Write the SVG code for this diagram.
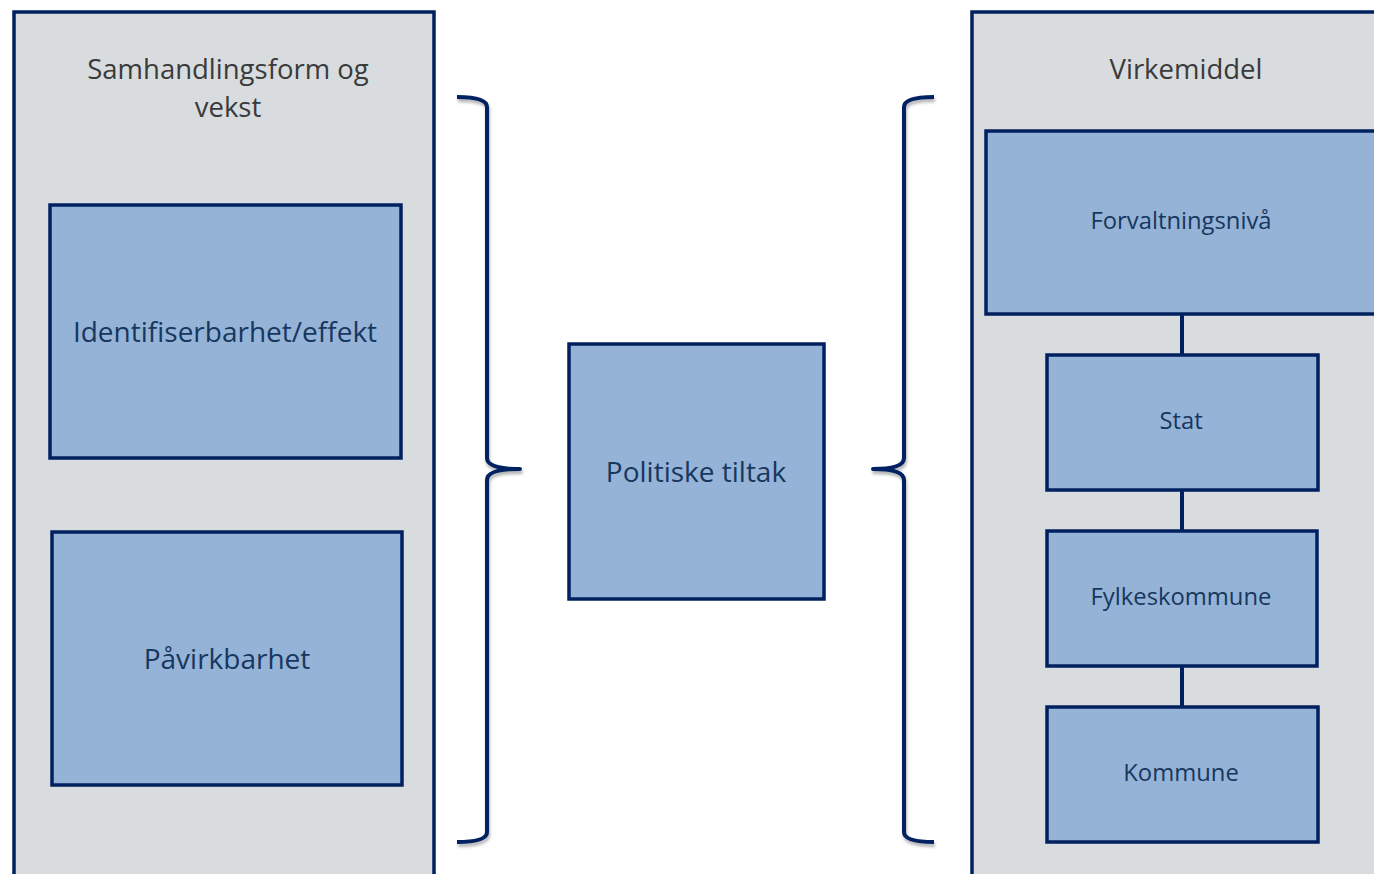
<svg xmlns="http://www.w3.org/2000/svg" width="1374" height="874" viewBox="0 0 1374 874">
<defs>
<style>
.panel{fill:#D8DCDE;stroke:#002060;stroke-width:3.5}
.box{fill:#95B3D7;stroke:#002060;stroke-width:3.5}
.title{font-family:"Open Sans","Noto Sans",sans-serif;font-size:27.5px;fill:#3A3A3A;text-anchor:middle}
.lbl{font-family:"Open Sans","Noto Sans",sans-serif;font-size:28px;fill:#17375E;text-anchor:middle}
.sm{font-size:23.8px}
.brace{fill:none;stroke:#002060;stroke-width:4;stroke-linecap:butt;stroke-linejoin:round}
.conn{stroke:#002060;stroke-width:4}
</style>
<filter id="sh" x="-20%" y="-5%" width="140%" height="110%">
<feDropShadow dx="1" dy="3" stdDeviation="1.5" flood-color="#000" flood-opacity="0.3"/>
</filter>
</defs>
<rect width="1374" height="874" fill="#FFFFFF"/>
<g id="panel-left">
<rect class="panel" x="14" y="12" width="420" height="880"/>
<text class="title" x="228" y="79">Samhandlingsform og</text>
<text class="title" x="228" y="117">vekst</text>
</g>
<g id="panel-right">
<rect class="panel" x="972" y="12" width="420" height="880"/>
<text class="title" x="1186" y="79">Virkemiddel</text>
</g>
<g id="connectors">
<line class="conn" x1="1182" y1="314" x2="1182" y2="355"/>
<line class="conn" x1="1182" y1="490" x2="1182" y2="531"/>
<line class="conn" x1="1182" y1="666" x2="1182" y2="707"/>
<path class="brace" filter="url(#sh)" d="M457,97 Q487,97 487,107 L487,458 Q487,469 520,469 Q487,469 487,480 L487,832 Q487,842 457,842"/>
<path class="brace" filter="url(#sh)" d="M934,97 Q904,97 904,107 L904,458 Q904,469 873,469 Q904,469 904,480 L904,832 Q904,842 934,842"/>
</g>
<g id="node-identifiserbarhet">
<rect class="box" x="50" y="205" width="351" height="253"/>
<text class="lbl" x="225" y="342">Identifiserbarhet/effekt</text>
</g>
<g id="node-pavirkbarhet">
<rect class="box" x="52" y="532" width="350" height="253"/>
<text class="lbl" x="227" y="669">Påvirkbarhet</text>
</g>
<g id="node-politiske">
<rect class="box" x="569" y="344" width="255" height="255"/>
<text class="lbl" x="696" y="482">Politiske tiltak</text>
</g>
<g id="node-forvaltningsniva">
<rect class="box" x="986" y="131" width="400" height="183"/>
<text class="lbl sm" x="1181" y="229">Forvaltningsnivå</text>
</g>
<g id="node-stat">
<rect class="box" x="1047" y="355" width="271" height="135"/>
<text class="lbl sm" x="1181" y="429">Stat</text>
</g>
<g id="node-fylkeskommune">
<rect class="box" x="1047" y="531" width="270" height="135"/>
<text class="lbl sm" x="1181" y="605">Fylkeskommune</text>
</g>
<g id="node-kommune">
<rect class="box" x="1047" y="707" width="271" height="135"/>
<text class="lbl sm" x="1181" y="781">Kommune</text>
</g>
</svg>
